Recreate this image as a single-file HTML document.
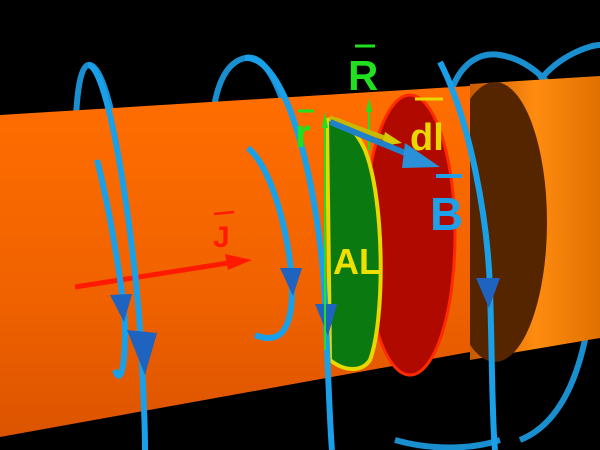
<!DOCTYPE html>
<html><head><meta charset="utf-8"><style>
html,body{margin:0;padding:0;background:#000;}
svg{display:block;}
text{font-family:"Liberation Sans",sans-serif;font-weight:bold;}
</style></head><body>
<svg width="600" height="450" viewBox="0 0 600 450">
<defs>
<linearGradient id="cyl" x1="0" y1="0" x2="0" y2="1">
<stop offset="0" stop-color="#ff6e00"/><stop offset="0.6" stop-color="#f06200"/><stop offset="1" stop-color="#dc5400"/></linearGradient>
<linearGradient id="cyl2" x1="0" y1="0" x2="1" y2="0">
<stop offset="0" stop-color="#c85a00"/><stop offset="0.5" stop-color="#ff8c10"/><stop offset="1" stop-color="#e07000"/></linearGradient>
</defs>
<rect width="600" height="450" fill="#000"/>
<g fill="none" stroke="#1a8fd0" stroke-width="6">
<path d="M140,330 C130,200 110,60 88,65 C70,70 75,200 80,260"/>
<path d="M325,300 C300,150 280,50 245,58 C215,65 205,120 215,200"/>
<path d="M450,200 C430,100 460,48 500,55 C560,65 600,150 595,260 C590,350 570,420 520,440"/>
<path d="M540,80 C560,55 590,45 600,45"/>
<path d="M395,440 C430,450 470,450 500,440"/>
</g>
<path d="M470,84 L600,76 L600,338 L470,360 Z" fill="url(#cyl2)"/>
<ellipse cx="495" cy="222" rx="52" ry="140" fill="#552500"/>
<path d="M0,115 L470,86 L470,352 L0,437 Z" fill="url(#cyl)"/>
<ellipse cx="410" cy="235" rx="45" ry="140" fill="#b00a00" stroke="#ff2a00" stroke-width="3"/>
<path d="M327,120 L330,360 C345,372 362,372 370,360 C385,320 385,200 365,150 C355,128 340,116 327,120 Z" fill="#0a7a10" stroke="#e8d800" stroke-width="4"/>
<g>
<line x1="75" y1="287" x2="228" y2="263" stroke="#ff1a00" stroke-width="5"/>
<polygon points="252,260 225,254 228,270" fill="#ff1a00"/>
</g>
<text x="213" y="247" font-size="30" fill="#ff1a00">J</text>
<line x1="214" y1="214" x2="234" y2="212" stroke="#ff1a00" stroke-width="2.5"/>
<g fill="none" stroke="#1aa0e8" stroke-width="6">
<path d="M88,65 C110,65 135,250 140,330 C143,380 145,420 145,450"/>
<path d="M97,160 C110,210 125,300 125,330 C125,370 120,385 115,370"/>
<path d="M245,58 C290,55 320,200 325,300 C328,370 330,430 332,450"/>
<path d="M248,148 C275,170 292,250 292,290 C292,330 280,345 255,335"/>
<path d="M440,62 C470,120 488,220 490,290 C492,350 492,420 495,450"/>
</g>
<g fill="#1f63c0">
<polygon points="110,295 132,294 124,322"/>
<polygon points="127,330 157,333 145,375"/>
<polygon points="280,268 302,268 293,296"/>
<polygon points="315,304 337,304 328,336"/>
<polygon points="476,278 500,278 489,308"/>
</g>
<g><line x1="325" y1="122" x2="325" y2="350" stroke="#20e020" stroke-width="2"/><polygon points="322,128 328,128 325,112" fill="#20e020"/></g>
<g><line x1="369" y1="150" x2="369" y2="110" stroke="#20e020" stroke-width="2"/><polygon points="366,112 372,112 369,98" fill="#20e020"/></g>
<g><line x1="330" y1="118" x2="390" y2="140" stroke="#c8b800" stroke-width="5"/><polygon points="385,132 402,143 382,146" fill="#d8c800"/></g>
<g><line x1="330" y1="122" x2="410" y2="155" stroke="#2080c8" stroke-width="6"/><polygon points="405,143 440,167 402,168" fill="#2a90d8"/></g>
<text x="348" y="90" font-size="42" fill="#20e020">R</text>
<line x1="355" y1="46" x2="375" y2="46" stroke="#20e020" stroke-width="3"/>
<text x="295" y="147" font-size="40" fill="#20e020">r</text>
<line x1="298" y1="111" x2="314" y2="111" stroke="#20e020" stroke-width="3"/>
<text x="410" y="150" font-size="38" fill="#e8d800">dl</text>
<line x1="415" y1="99" x2="443" y2="99" stroke="#e8d800" stroke-width="3"/>
<text x="430" y="230" font-size="46" fill="#20a0e8">B</text>
<line x1="436" y1="176" x2="462" y2="176" stroke="#20a0e8" stroke-width="4"/>
<text x="333" y="274" font-size="36" fill="#f0e000">AL</text>
</svg>
</body></html>
